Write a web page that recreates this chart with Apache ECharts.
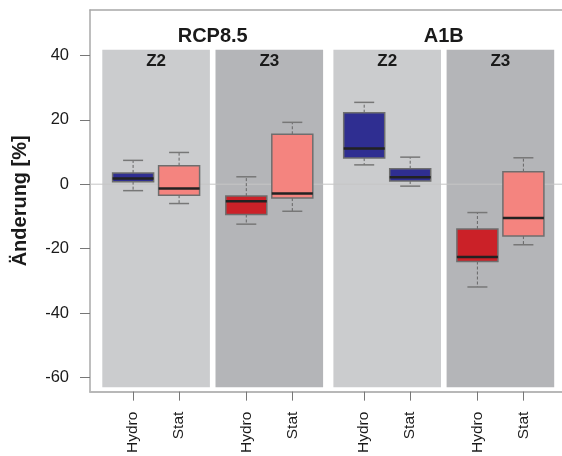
<!DOCTYPE html>
<html><head><meta charset="utf-8">
<script src="https://cdn.jsdelivr.net/npm/echarts@6/dist/echarts.min.js"></script>
<style>html,body{margin:0;padding:0;background:#fff}#c{width:562px;height:456px}</style>
</head><body><div id="c"></div>
<script>
// ---- data ----
const scenarios = ['RCP8.5', 'A1B'];
const zones = ['Z2', 'Z3'];
const methods = ['Hydro', 'Stat'];
// order: RCP8.5-Z2-Hydro, RCP8.5-Z2-Stat, RCP8.5-Z3-Hydro, RCP8.5-Z3-Stat, A1B-Z2-Hydro, A1B-Z2-Stat, A1B-Z3-Hydro, A1B-Z3-Stat
const whiskerLow  = [-2.0, -6.0, -12.4, -8.4,  6.0, -0.6, -31.9, -18.8];
const quart1      = [ 0.8, -3.4,  -9.4, -4.3,  8.1,  1.0, -24.0, -16.1];
const medians     = [1.75, -1.3,  -5.3, -2.9, 11.1, 2.15, -22.6, -10.5];
const quart3      = [ 3.5, 5.75,  -3.7, 15.5, 22.2,  4.8, -13.9,   3.9];
const whiskerHigh = [ 7.4, 9.85,   2.3, 19.2, 25.4,  8.4,  -8.8,   8.2];
const yTicks = [-60, -40, -20, 0, 20, 40];

// ---- styles ----
const boxColors = ['#2f2e91', '#f4847f', '#cb2128', '#f4847f', '#2f2e91', '#2f2e91', '#cb2128', '#f4847f'];
const panelColors = ['#cbccce', '#b4b5b8'];
const FONT = '"Liberation Sans", Arial, sans-serif';

// ---- layout (axis units) ----
const X_MAX = 472, FIRST = 12.3, PANEL_W = 107.6, ZONE_GAP = 5.6, SCEN_GAP = 10.3;
const BOX_OFF = 23, BOX_HALF = 20.5, CAP_HALF = 10;
const Y_MIN = -64.39, Y_MAX = 54.07, PANEL_TOP = 41.74, PANEL_BOTTOM = -63.0, ZONE_LABEL_Y = 38.1, SCEN_LABEL_Y = 45.8;

const panels = [];
let cursor = FIRST;
scenarios.forEach((s, si) => {
  if (si > 0) cursor += SCEN_GAP;
  zones.forEach((z, zi) => {
    if (zi > 0) cursor += ZONE_GAP;
    panels.push([cursor, cursor + PANEL_W, zi]);
    cursor += PANEL_W;
  });
});
const boxCenters = [];
panels.forEach(p => {
  const c = (p[0] + p[1]) / 2;
  methods.forEach((m, mi) => boxCenters.push(c + (mi === 0 ? -BOX_OFF : BOX_OFF)));
});
const boxData = boxCenters.map((xc, i) => [xc, whiskerLow[i], quart1[i], medians[i], quart3[i], whiskerHigh[i]]);
const headerData = scenarios.map((s, si) => [(panels[si * 2][0] + panels[si * 2 + 1][1]) / 2, si]);

function methodLabel(v) {
  let best = 0;
  boxCenters.forEach((c, i) => { if (Math.abs(c - v) < Math.abs(boxCenters[best] - v)) best = i; });
  return methods[best % methods.length];
}

const chart = echarts.init(document.getElementById('c'), null, { renderer: 'canvas' });
chart.setOption({
  animation: false,
  backgroundColor: '#ffffff',
  grid: { left: 90, right: 0, top: 10, bottom: 61.5, show: false },
  xAxis: [{
    type: 'value', min: 0, max: X_MAX, position: 'bottom',
    axisLine: { show: true, onZero: false, lineStyle: { color: '#b8b8b8', width: 2 } },
    axisTick: { show: true, customValues: boxCenters, length: 9, lineStyle: { color: '#777', width: 1 } },
    axisLabel: { customValues: boxCenters, rotate: 90, margin: 20, fontSize: 15.5, color: '#1a1a1a', fontFamily: FONT, formatter: methodLabel },
    splitLine: { show: false }
  }, {
    type: 'value', min: 0, max: X_MAX, position: 'top',
    axisLine: { show: true, onZero: false, lineStyle: { color: '#a8a8a8', width: 1.5 } },
    axisTick: { show: false }, axisLabel: { show: false }, splitLine: { show: false }
  }],
  yAxis: {
    type: 'value', min: Y_MIN, max: Y_MAX,
    name: 'Änderung [%]', nameLocation: 'middle', nameGap: 60,
    nameTextStyle: { fontSize: 20, fontWeight: 'bold', color: '#1a1a1a', fontFamily: FONT },
    axisLine: { show: true, onZero: false, lineStyle: { color: '#a8a8a8', width: 1.5 } },
    axisTick: { show: true, customValues: yTicks, length: 10, lineStyle: { color: '#777', width: 1 } },
    axisLabel: { customValues: yTicks, margin: 21, fontSize: 16.5, color: '#1a1a1a', fontFamily: FONT },
    splitLine: { show: false }
  },
  series: [
    {
      type: 'custom', name: 'panels', z: 1, silent: true,
      data: panels,
      renderItem: function (params, api) {
        const s = api.value(0), e = api.value(1), zi = api.value(2);
        const tl = api.coord([s, PANEL_TOP]), br = api.coord([e, PANEL_BOTTOM]);
        const lab = api.coord([(s + e) / 2, ZONE_LABEL_Y]);
        return {
          type: 'group',
          children: [
            { type: 'rect', shape: { x: tl[0], y: tl[1], width: br[0] - tl[0], height: br[1] - tl[1] }, style: { fill: panelColors[zi] } },
            { type: 'text', style: { text: zones[zi], x: lab[0], y: lab[1], fill: '#1a1a1a', font: 'bold 17px ' + FONT, align: 'center', verticalAlign: 'middle' } }
          ]
        };
      }
    },
    {
      type: 'custom', name: 'headers', z: 1, silent: true,
      data: headerData,
      renderItem: function (params, api) {
        const p = api.coord([api.value(0), SCEN_LABEL_Y]);
        return { type: 'text', style: { text: scenarios[api.value(1)], x: p[0], y: p[1], fill: '#1a1a1a', font: 'bold 20px ' + FONT, align: 'center', verticalAlign: 'middle' } };
      }
    },
    {
      type: 'custom', name: 'zero', z: 2, silent: true,
      data: [[0]],
      renderItem: function (params, api) {
        const a = api.coord([0, api.value(0)]), b = api.coord([X_MAX, api.value(0)]);
        return { type: 'line', shape: { x1: a[0], y1: a[1], x2: b[0], y2: b[1] }, style: { stroke: '#c6c6c6', lineWidth: 1 } };
      }
    },
    {
      type: 'custom', name: 'boxes', z: 3,
      data: boxData,
      renderItem: function (params, api) {
        const i = params.dataIndex;
        const xc = api.value(0), lo = api.value(1), q1 = api.value(2), md = api.value(3), q3 = api.value(4), hi = api.value(5);
        const tl = api.coord([xc - BOX_HALF, q3]), br = api.coord([xc + BOX_HALF, q1]);
        const pMd = api.coord([xc, md]), pLo = api.coord([xc, lo]), pHi = api.coord([xc, hi]);
        const pQ1 = api.coord([xc, q1]), pQ3 = api.coord([xc, q3]);
        const cl = api.coord([xc - CAP_HALF, 0])[0], cr = api.coord([xc + CAP_HALF, 0])[0];
        const wh = { stroke: '#666', lineWidth: 1, lineDash: [3, 2] };
        const cap = { stroke: '#777', lineWidth: 1.5 };
        return {
          type: 'group',
          children: [
            { type: 'line', shape: { x1: pQ3[0], y1: pQ3[1], x2: pHi[0], y2: pHi[1] }, style: wh },
            { type: 'line', shape: { x1: pQ1[0], y1: pQ1[1], x2: pLo[0], y2: pLo[1] }, style: wh },
            { type: 'line', shape: { x1: cl, y1: pHi[1], x2: cr, y2: pHi[1] }, style: cap },
            { type: 'line', shape: { x1: cl, y1: pLo[1], x2: cr, y2: pLo[1] }, style: cap },
            { type: 'rect', shape: { x: tl[0], y: tl[1], width: br[0] - tl[0], height: br[1] - tl[1] }, style: { fill: boxColors[i], stroke: '#6e6e6e', lineWidth: 1.5 } },
            { type: 'line', shape: { x1: tl[0], y1: pMd[1], x2: br[0], y2: pMd[1] }, style: { stroke: '#222', lineWidth: 2.5 } }
          ]
        };
      }
    }
  ]
});
</script>
</body></html>
